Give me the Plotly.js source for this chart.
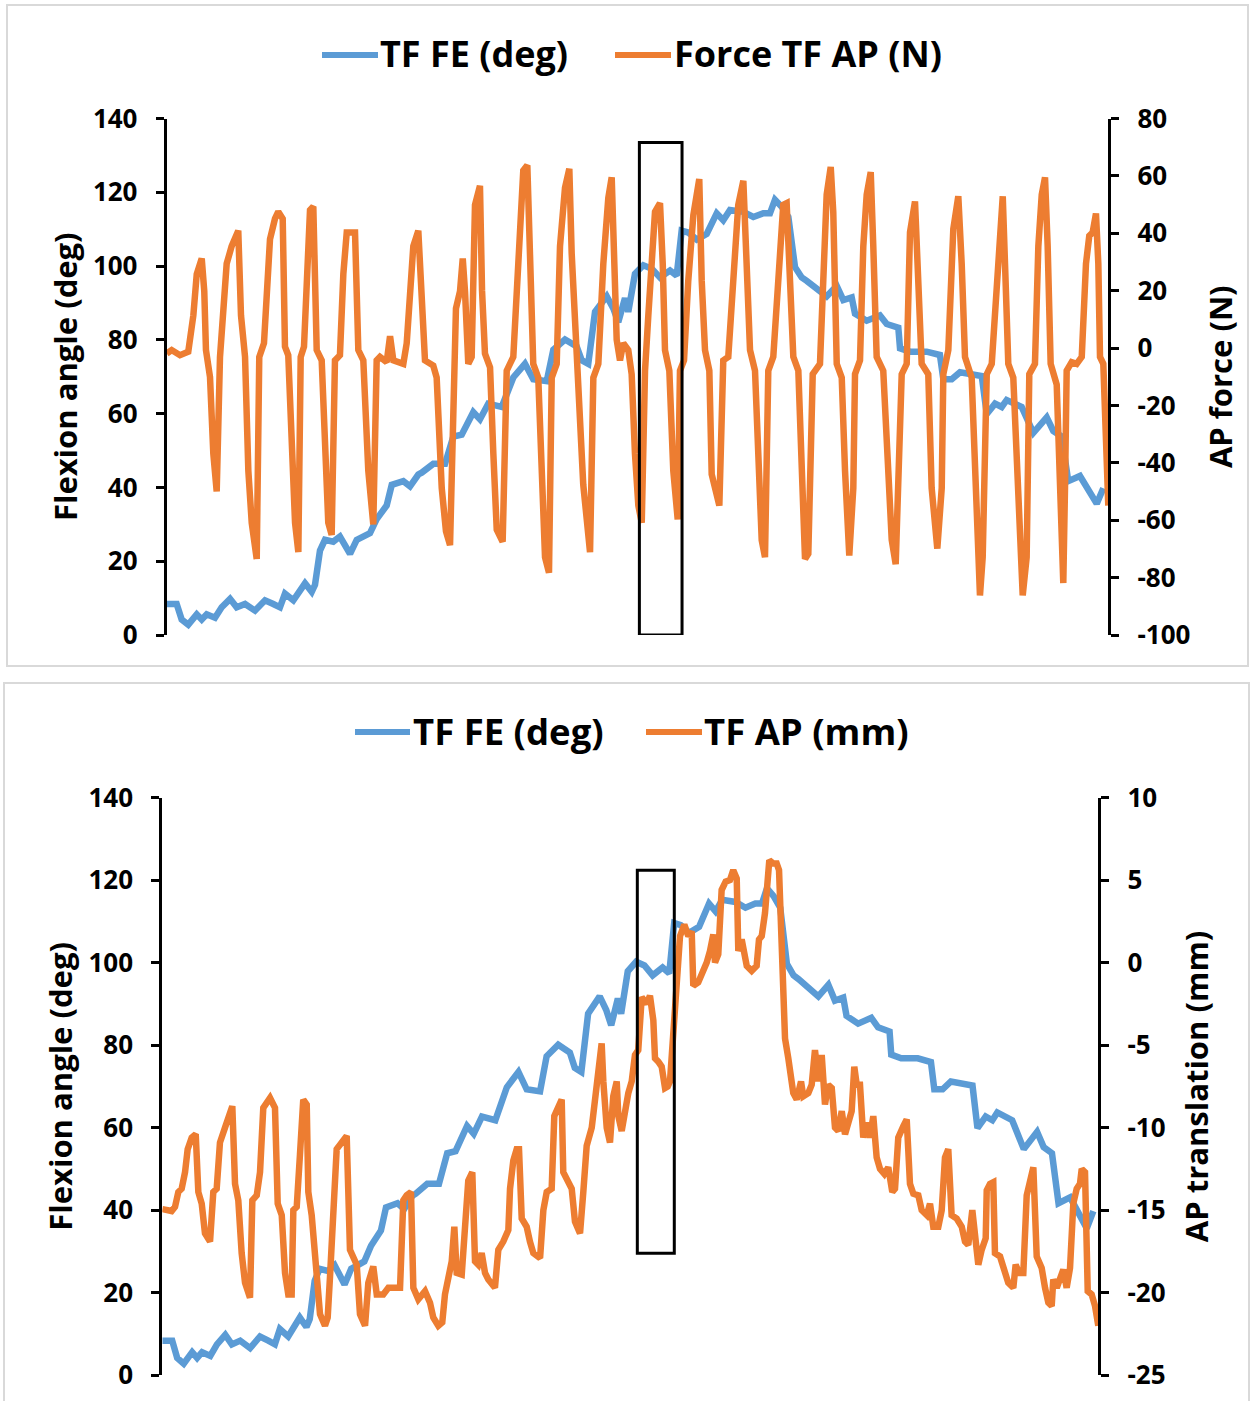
<!DOCTYPE html>
<html>
<head>
<meta charset="utf-8">
<script src="https://cdn.plot.ly/plotly-3.0.1.min.js"></script>
<style>
html,body{margin:0;padding:0;background:#fff;}
#chart{width:1250px;height:1401px;}
</style>
</head>
<body>
<div id="chart"></div>
<script>
// ---------- DATA (x = % of recorded cycle) ----------
// Tibiofemoral flexion angle (deg) – same signal in both panels
const fe_t = [0,1.06,1.59,2.29,3.19,3.72,4.25,5.13,5.84,6.73,
  7.43,8.32,9.38,10.44,11.32,12.03,12.56,13.45,14.69,15.4,
  15.75,16.28,16.81,17.69,18.4,19.47,20.18,21.59,22.3,23.36,
  23.9,25.13,25.84,26.72,27.08,28.31,29.56,30.44,31.33,32.56,
  33.27,34.15,35.58,36.81,38.05,38.93,40.36,41.06,42.3,43.54,
  44.07,44.77,45.49,46.73,47.43,47.96,48.67,49.02,49.73,50.62,
  51.51,52.39,53.45,54.16,54.69,55.39,56.29,57.35,58.41,59.11,
  59.82,61.24,62.3,63.36,64.07,64.6,65.31,66.02,66.73,67.44,
  67.97,69.03,70.09,71.16,71.86,72.75,73.1,74.34,75.75,76.47,
  77.7,77.88,78.94,80.71,82.12,82.48,83.37,84.25,86.56,87.09,
  87.97,88.68,89.21,90.8,92.04,93.46,94.16,95.05,95.75,96.99,
  97.88,98.77,99.47];
const fe_deg = [8.4,8.4,4.2,2.8,5.6,4.2,5.6,4.7,7.5,9.8,
  7.5,8.4,6.6,9.4,8.4,7.5,11.2,9.4,14,11.7,
  13.6,22.9,25.8,25.3,26.7,22,25.8,27.6,31.4,35.1,
  40.7,41.7,40.3,43.5,44,46.4,46.4,53.8,54.3,60.4,
  58.5,62.7,61.8,69.8,73.5,69.3,68.8,77.3,80.1,78.2,
  74.5,73.5,87.6,91.8,88.5,84.8,91.3,87.6,97.9,100.2,
  99.3,96.9,98.8,97.4,109.6,109.1,107.2,108.7,114.3,112.4,
  115.2,114.7,113.3,114.3,114.3,118,116.1,113.3,99.7,96.9,
  96,94.1,91.8,94.6,90.8,91.5,87.1,85.2,86.6,84.3,
  83.3,77.7,76.8,76.8,75.9,69.3,69.3,71.2,70.2,59.9,
  62.7,61.8,63.7,61.8,54.8,59,55.3,53.8,41.7,43.1,
  38.9,35.6,39.8];

// Tibiofemoral AP force (N) – top panel
const force_t = [0,0.53,1.41,2.29,2.83,3.19,3.72,3.99,4.17,4.6,
  4.95,5.31,5.66,5.95,6.37,6.9,7.6,7.89,8.32,8.67,
  9.03,9.56,9.83,10.33,10.68,10.97,11.5,11.85,12.32,12.56,
  12.91,13.28,13.63,13.98,14.23,14.58,14.87,15.22,15.57,15.93,
  16.46,16.81,17.16,17.52,17.87,18.4,18.76,19.12,20,20.35,
  20.88,21.41,21.94,22.3,22.65,23.36,23.72,24.07,25.13,25.49,
  25.84,26.19,26.72,27.08,27.43,28.31,28.67,29.21,29.66,30.09,
  30.44,30.72,31.15,31.44,31.68,32.03,32.39,32.74,33.27,33.49,
  33.8,34.34,34.69,35.05,35.68,36.11,36.81,37.34,37.87,38.3,
  38.58,38.93,39.46,39.83,40.18,40.6,40.89,41.42,41.77,42.3,
  42.76,43.01,43.36,43.71,44.24,44.96,45.31,45.84,46.37,46.9,
  47.26,47.54,47.79,48.14,48.49,49.02,49.38,49.73,50.09,50.45,
  50.8,51.15,51.51,51.86,52.39,52.68,52.92,53.38,53.8,54.27,
  54.51,54.94,55.39,55.93,56.56,56.82,57.17,57.63,57.88,58.41,
  58.69,59.11,59.64,60.17,60.7,61.24,61.59,61.95,62.48,62.83,
  63.19,63.54,63.89,64.42,64.95,65.48,65.84,66.2,66.55,67.08,
  67.54,67.79,68.14,68.61,69.38,69.73,70.09,70.52,70.79,71.16,
  71.69,72.04,72.49,72.92,73.1,73.63,73.98,74.34,74.77,75.04,
  75.4,76.1,76.53,77,77.42,77.7,78.06,78.59,78.94,79.47,
  79.82,80.18,80.88,81.24,81.84,82.31,82.48,83.01,83.54,84.07,
  84.43,84.78,85.49,86.02,86.37,86.66,87.09,87.62,87.97,88.39,
  88.79,89.03,89.38,89.91,90.33,90.91,91.33,91.61,92.21,92.57,
  92.93,93.28,93.56,93.88,94.52,94.87,95.22,95.4,95.58,96.11,
  96.64,97.18,97.63,97.98,98.34,98.69,98.94,99.12,99.47,100];
const force_N = [-1.9,-0.7,-2.5,-1.3,11.4,25.8,31.2,19.8,-0.7,-10.1,
  -36.8,-50,-3.1,11.4,29.4,35.5,40.9,11.4,-3.1,-42.8,
  -60.9,-73.5,-3.1,1.7,21,37.9,45.1,47.5,45.1,0.5,
  -2.5,-36.8,-60.9,-71.1,-3.1,0.5,29.4,48.1,49.3,-0.7,
  -4.3,-36.8,-60.9,-65.1,-4.3,-2.5,25.8,40.3,40.3,-0.7,
  -4.3,-42.8,-61.5,-4.3,-3.1,-4.9,4.1,-4.3,-5.5,1.7,
  23.4,35.5,40.9,17.4,-4.3,-6.1,-10.3,-48.8,-63.9,-68.7,
  -7.9,13.8,19.8,31.2,19.8,-5.5,-3.1,49.9,56.5,20,
  -1.9,-6.7,-36.8,-63.3,-67.5,-7.9,-3.1,29.4,61.9,63.7,
  29.4,-5.5,-10.3,-48.8,-72.9,-78.3,-10.3,-5.5,35.5,55.9,
  62.5,33,8.8,-10.3,-47.6,-71.1,-10.3,-5.5,29.4,52.3,
  59.5,29.4,2.9,-4.3,1.7,-0.7,-9.1,-36.8,-54.9,-60.9,
  -7.9,11.4,33,47.5,50.5,29.4,-0.7,-7.9,-42.8,-59.7,
  -7.9,-4.3,23.4,46.3,58.9,23.4,-0.7,-7.9,-44,-50,
  -54.9,-4.3,-3.1,23.4,49.9,58.3,29.4,-0.7,-7.9,-42.8,
  -66.9,-72.9,-7.9,-3.1,23.4,49.9,50.5,23.4,-3.1,-7.9,
  -48.8,-73.5,-71.7,-9.1,-5.5,23.4,53.5,63.1,47.5,-5.5,
  -10.3,-42.8,-72.3,-48.8,-9.1,-4.3,35.5,53.5,61.3,35.5,
  -3.1,-7.9,-36.8,-66.9,-75.3,-48.8,-9.1,-5.5,40.3,51.1,
  23.4,-5.5,-9.1,-48.8,-69.9,-48.8,-9.1,-0.7,41.5,52.9,
  29.4,-3.1,-10.3,-48.8,-86.2,-72.9,-9.1,-5.5,12.6,39.1,
  52.9,29.4,-5.5,-10.3,-48.8,-86.2,-72.9,-9.1,-5.5,35.5,
  53.5,59.5,35.5,-5.5,-12.7,-48.8,-81.9,-48.8,-7.9,-4.9,
  -5.5,-3.1,29.4,39.1,40.3,46.9,29.4,-3.1,-5.5,-54.9];

// Tibiofemoral AP translation (mm) – bottom panel
const ap_t = [0,1.0,1.36,1.71,2.07,2.43,2.71,3.14,3.57,3.85,
  4.21,4.56,5.1,5.45,5.81,6.16,6.7,7.05,7.48,7.77,
  8.12,8.48,8.84,9.37,9.62,10.09,10.44,10.79,11.51,12.04,
  12.33,12.76,13.11,13.46,13.82,14,14.36,14.71,15.06,15.43,
  15.6,15.96,16.39,16.85,17.38,17.67,17.92,18.45,18.63,19.17,
  19.7,20.05,20.41,20.77,21.12,21.66,22.01,22.54,22.91,23.61,
  24.15,24.86,25.4,25.75,26.11,26.57,26.82,27.35,28.07,28.6,
  28.95,29.49,29.91,30.2,30.56,30.92,31.2,31.45,31.99,32.41,
  32.69,33.12,33.41,33.76,34.12,34.48,34.83,35.54,35.9,36.43,
  36.97,37.15,37.5,37.86,38.11,38.4,38.93,39.28,39.64,40.36,
  40.71,41.07,41.6,41.88,42.31,42.67,42.84,43.38,43.74,44.09,
  44.63,44.98,45.34,45.88,46.41,46.94,47.12,47.48,47.83,48.18,
  48.55,48.72,49.08,49.44,49.79,50.15,50.5,50.85,51.22,51.75,
  52.1,52.46,52.64,52.99,53.35,53.71,54,54.24,54.59,54.96,
  55.31,55.77,56.2,56.56,56.73,57.26,57.8,58.16,58.51,58.87,
  59.05,59.4,59.76,60.19,60.65,61,61.37,61.54,61.9,62.18,
  62.44,62.97,63.5,63.75,64.04,64.39,64.85,65.28,65.64,65.89,
  66.17,66.53,66.88,67.41,67.78,68.24,68.48,69.02,69.38,69.73,
  70.09,70.45,70.8,71.15,71.52,71.87,72.22,72.59,72.94,73.29,
  73.65,73.93,74.19,74.54,74.89,75.26,75.61,75.96,76.32,76.68,
  77.14,77.56,77.99,78.28,78.63,79.17,79.53,79.88,80.24,80.77,
  81.13,81.67,82.02,82.37,82.91,83.27,83.62,83.97,84.33,84.87,
  85.41,85.76,86.11,86.54,86.83,87.18,87.54,87.97,88.08,88.43,
  88.78,88.96,89.5,89.96,90.38,90.92,91.17,91.53,91.99,92.35,
  92.7,93.06,93.42,93.95,94.31,94.66,95.02,95.19,95.56,95.91,
  96.26,96.62,96.98,97.33,97.69,98.04,98.23,98.58,98.87,99.29,
  99.65,100];
const ap_mm = [-14.93,-15.05,-14.8,-13.9,-13.7,-12.7,-11.3,-10.6,-10.4,-13.9,
  -14.6,-16.4,-16.9,-13.9,-13.7,-10.9,-10,-9.5,-8.7,-13.4,
  -14.4,-17.6,-19.4,-20.3,-14.4,-14.1,-12.7,-8.8,-8.2,-8.8,
  -14.6,-15.3,-18.8,-20.1,-20.1,-15,-14.8,-11.6,-8.3,-8.6,
  -13.9,-15.3,-17.8,-21.3,-22,-21.5,-19,-12.7,-11.3,-10.9,
  -10.5,-17.4,-17.8,-18.3,-21.3,-22,-19.4,-18.4,-20.1,-20.1,
  -19.7,-19.7,-19.7,-14.4,-14.1,-13.9,-19.7,-20.4,-19.9,-20.6,
  -21.5,-22,-21.8,-20.1,-19.2,-18.1,-16,-18.8,-18.9,-15.3,
  -13.2,-12.7,-18.1,-18.3,-17.6,-18.8,-19.2,-19.7,-17.4,-16.9,
  -16.2,-13.7,-12,-11.3,-11.3,-15.5,-16,-16.9,-17.6,-17.9,
  -15,-13.9,-13.7,-9.3,-8.6,-8.3,-12.7,-13.2,-13.7,-15.7,
  -16.4,-13.9,-11.1,-10,-7.2,-4.9,-7.2,-10,-10.9,-8.1,
  -7.2,-9.3,-10.2,-8.8,-7.9,-7.2,-5.6,-5.3,-2.1,-2.5,
  -2,-3.5,-5.8,-6,-6.3,-7.6,-7.5,-7.2,-3.9,-0.9,
  1.6,2.3,1.6,1.9,-1.4,-1.2,-0.5,0,0.7,1.7,
  0,0.5,4.4,4.9,5,5.6,5.1,0.7,1.4,0.2,
  -0.2,-0.5,-0.2,1.4,1.6,3,6.2,6,6,5.6,
  1.2,-4.6,-5.8,-7.9,-8.3,-7.2,-8.1,-7.9,-7.4,-5.3,
  -7.2,-5.6,-8.6,-7.4,-7.6,-10,-10.2,-9,-10.4,-9.7,
  -9,-6.3,-7.4,-7.4,-10.6,-9.7,-10.6,-9.3,-11.8,-12.5,
  -12.8,-12.4,-13.9,-13.7,-10.6,-9.9,-9.5,-13.4,-14,-14.1,
  -15,-15.3,-14.6,-16,-16,-15,-11.8,-11.3,-15.3,-15.5,
  -16,-16.9,-17.1,-15,-16.7,-18.3,-17.4,-16.7,-13.8,-13.4,
  -13.3,-17.6,-17.8,-18.5,-19.4,-19.7,-18.3,-18.8,-18.8,-14.1,
  -13.4,-12.4,-17.8,-18.5,-19.7,-20.6,-20.8,-19.2,-19.7,-19.2,
  -18.6,-19.7,-18.5,-14.6,-13.7,-13.4,-12.5,-12.7,-19.9,-20.1,
  -20.8,-22];

// Highlighted window (% of cycle) in each panel
const windowTop = [50.2, 54.73];
const windowBottom = [50.75, 54.7];

// Tick values / labels
const angleTicks = [0,20,40,60,80,100,120,140];
const angleLabels = ['0','20','40','60','80','100','120','140'];
const forceTicks = [-100,-80,-60,-40,-20,0,20,40,60,80];
const forceLabels = ['-100','-80','-60','-40','-20','0','20','40','60','80'];
const transTicks = [-25,-20,-15,-10,-5,0,5,10];
const transLabels = ['-25','-20','-15','-10','-5','0','5','10'];

// Series / axis names
const nameFE = 'TF FE (deg)';
const nameForce = 'Force TF AP (N)';
const nameAP = 'TF AP (mm)';

// ---------- STYLE ----------
const FONT = '"Open Sans", "DejaVu Sans", sans-serif';
const BLUE = '#5B9BD5';
const ORANGE = '#ED7D31';
const LW = 6.5;
const W = 1250, H = 1401;
const px = v => v / W;
const py = v => 1 - v / H;

function yAxisStyle(extra) {
  return Object.assign({
    showline: true, linecolor: '#000', linewidth: 3,
    ticks: 'outside', ticklen: 8, tickwidth: 3, tickcolor: '#000',
    showgrid: false, zeroline: false, fixedrange: true,
    tickmode: 'array',
    ticklabelstandoff: 13,
    tickfont: {family: FONT, size: 26, color: '#000', weight: 'bold'}
  }, extra);
}
function axTitle(text, standoff) {
  return {text: text, standoff: standoff,
          font: {family: FONT, size: 31, color: '#000', weight: 'bold'}};
}

const traces = [
  {x: fe_t, y: fe_deg, xaxis: 'x', yaxis: 'y', type: 'scatter', mode: 'lines',
   name: nameFE, line: {color: BLUE, width: LW}, showlegend: false, hoverinfo: 'skip'},
  {x: force_t, y: force_N, xaxis: 'x', yaxis: 'y2', type: 'scatter', mode: 'lines',
   name: nameForce, line: {color: ORANGE, width: LW}, showlegend: false, hoverinfo: 'skip'},
  {x: fe_t, y: fe_deg, xaxis: 'x2', yaxis: 'y3', type: 'scatter', mode: 'lines',
   name: nameFE, line: {color: BLUE, width: LW}, showlegend: false, hoverinfo: 'skip'},
  {x: ap_t, y: ap_mm, xaxis: 'x2', yaxis: 'y4', type: 'scatter', mode: 'lines',
   name: nameAP, line: {color: ORANGE, width: LW}, showlegend: false, hoverinfo: 'skip'}
];

const legendFont = s => ({family: FONT, size: s, color: '#000', weight: 'bold'});

const layout = {
  width: W, height: H,
  margin: {l: 0, r: 0, t: 0, b: 0},
  paper_bgcolor: '#fff', plot_bgcolor: 'rgba(0,0,0,0)',
  showlegend: false,
  xaxis: {domain: [px(166.7), px(1108.3)], range: [0, 100], visible: false, anchor: 'y', fixedrange: true},
  yaxis: yAxisStyle({domain: [py(635), py(118.5)], range: [0, 140], anchor: 'x', side: 'left',
    tickvals: angleTicks, ticktext: angleLabels, title: axTitle('Flexion angle (deg)', 7)}),
  yaxis2: yAxisStyle({range: [-100, 80], anchor: 'x', overlaying: 'y', side: 'right',
    tickvals: forceTicks, ticktext: forceLabels, title: axTitle('AP force (N)', 21)}),
  xaxis2: {domain: [px(162.3), px(1098.3)], range: [0, 100], visible: false, anchor: 'y3', fixedrange: true},
  yaxis3: yAxisStyle({domain: [py(1375.3), py(797.5)], range: [0, 140], anchor: 'x2', side: 'left',
    tickvals: angleTicks, ticktext: angleLabels, title: axTitle('Flexion angle (deg)', 7)}),
  yaxis4: yAxisStyle({range: [-25, 10], anchor: 'x2', overlaying: 'y3', side: 'right',
    tickvals: transTicks, ticktext: transLabels, title: axTitle('AP translation (mm)', 22)}),
  shapes: [
    // chart frames
    {type: 'rect', xref: 'paper', yref: 'paper', x0: px(7), x1: px(1248), y0: py(666), y1: py(5),
     line: {color: '#D9D9D9', width: 2}, layer: 'below'},
    {type: 'rect', xref: 'paper', yref: 'paper', x0: px(4), x1: px(1249), y0: py(1403), y1: py(683),
     line: {color: '#D9D9D9', width: 2}, layer: 'below'},
    // highlight windows
    {type: 'rect', xref: 'x', yref: 'y2', x0: windowTop[0], x1: windowTop[1], y0: -100, y1: 71.6,
     line: {color: '#000', width: 3}},
    {type: 'rect', xref: 'x2', yref: 'y4', x0: windowBottom[0], x1: windowBottom[1], y0: -17.6, y1: 5.6,
     line: {color: '#000', width: 3}},
    // legend keys
    {type: 'line', xref: 'paper', yref: 'paper', x0: px(322), x1: px(378), y0: py(55), y1: py(55),
     line: {color: BLUE, width: 6}},
    {type: 'line', xref: 'paper', yref: 'paper', x0: px(615), x1: px(671), y0: py(55), y1: py(55),
     line: {color: ORANGE, width: 6}},
    {type: 'line', xref: 'paper', yref: 'paper', x0: px(355), x1: px(410), y0: py(732), y1: py(732),
     line: {color: BLUE, width: 6}},
    {type: 'line', xref: 'paper', yref: 'paper', x0: px(646), x1: px(702), y0: py(732), y1: py(732),
     line: {color: ORANGE, width: 6}}
  ],
  annotations: [
    {xref: 'paper', yref: 'paper', x: px(378), y: py(54), xanchor: 'left', yanchor: 'middle',
     text: nameFE, showarrow: false, font: legendFont(36)},
    {xref: 'paper', yref: 'paper', x: px(672), y: py(54), xanchor: 'left', yanchor: 'middle',
     text: nameForce, showarrow: false, font: legendFont(36)},
    {xref: 'paper', yref: 'paper', x: px(411), y: py(731), xanchor: 'left', yanchor: 'middle',
     text: nameFE, showarrow: false, font: legendFont(36.5)},
    {xref: 'paper', yref: 'paper', x: px(702), y: py(731), xanchor: 'left', yanchor: 'middle',
     text: nameAP, showarrow: false, font: legendFont(36.5)}
  ]
};

Plotly.newPlot('chart', traces, layout, {staticPlot: true, displayModeBar: false});
</script>
</body>
</html>
